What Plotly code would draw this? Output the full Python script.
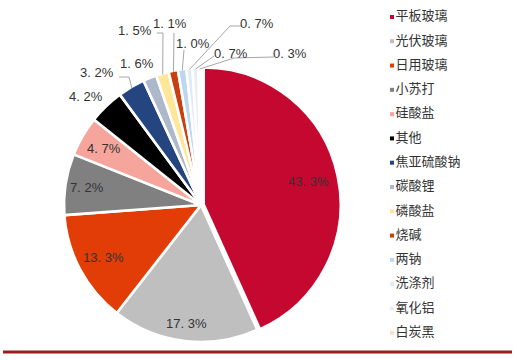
import math
import plotly.graph_objects as go

labels = ["平板玻璃", "光伏玻璃", "日用玻璃", "小苏打", "硅酸盐", "其他", "焦亚硫酸钠",
          "碳酸锂", "磷酸盐", "烧碱", "两钠", "洗涤剂", "氧化铝", "白炭黑"]
values = [43.3, 17.3, 13.3, 7.2, 4.7, 4.2, 3.2, 1.6, 1.5, 1.1, 1.0, 0.7, 0.7, 0.3]
colors = ["#C4082F", "#BFBFBF", "#E23D06", "#808080", "#F5A59B", "#000000", "#24457F",
          "#ADB9CA", "#FFE699", "#C8400F", "#BDD7EE", "#DEEBF7", "#E9EEF4", "#FBE0CC"]

W, H = 517, 360
CX, CY, R = 201, 205, 137
PULL = 0.02

def P(px, py):
    return px / W, 1 - py / H

fig = go.Figure()

half = R * (1 + PULL)
x0, y0 = P(CX - half, CY - half)
x1, y1 = P(CX + half, CY + half)
fig.add_trace(go.Pie(
    labels=labels, values=values, sort=False, direction="clockwise", rotation=0,
    marker=dict(colors=colors, line=dict(color="white", width=2.6)),
    pull=[PULL] + [0] * (len(values) - 1),
    textinfo="none", hoverinfo="label+percent", showlegend=False,
    domain=dict(x=[x0, x1], y=[y1, y0]),
))

# label placement (style): inside radial fraction, or outside label pixel position + leader path
inside_frac = {0: 0.80, 1: 0.87, 2: 0.81, 3: 0.84, 4: 0.82}
outside = {
    5: dict(pos=(86, 97), path=None),
    6: dict(pos=(97, 73), path=[(119, 77), (129, 77)]),
    7: dict(pos=(137, 63), path=None),
    8: dict(pos=(135, 30), path=[(157, 33), (163, 33)]),
    9: dict(pos=(170, 23), path=[(174, 33)]),
    10: dict(pos=(193, 43), path=[(184, 50)]),
    11: dict(pos=(257, 23), path=[(242, 26), (230, 26)]),
    12: dict(pos=(231, 53), path=[(214, 56)]),
    13: dict(pos=(290, 53), path=[(274, 57), (234, 58)]),
}

def fmt(v):
    return f"{v:.1f}%".replace(".", ". ")

total = sum(values)
cum = 0.0
label_font = dict(family="Liberation Sans, Arial", size=13, color="#333333")
for i, v in enumerate(values):
    mid = (cum + v / 2) / total * 360.0
    cum += v
    s, c = math.sin(math.radians(mid)), math.cos(math.radians(mid))
    if i in inside_frac:
        f = inside_frac[i]
        ax, ay = P(CX + f * R * s, CY - f * R * c)
    else:
        o = outside[i]
        ax, ay = P(*o["pos"])
        if o["path"]:
            edge = (CX + (R - 1) * s, CY - (R - 1) * c)
            pts = o["path"] + [edge]
            d = "M " + " L ".join(f"{P(px,py)[0]:.5f},{P(px,py)[1]:.5f}" for px, py in pts)
            fig.add_shape(type="path", path=d, xref="paper", yref="paper",
                          line=dict(color="#A6A6A6", width=1))
    fig.add_annotation(x=ax, y=ay, xref="paper", yref="paper", text=fmt(v),
                       xanchor="center", yanchor="middle",
                       showarrow=False, font=label_font)

# legend built as a scatter on hidden axes
n = len(labels)
fig.add_trace(go.Scatter(
    x=[0] * n, y=list(range(n)), mode="markers+text",
    marker=dict(symbol="square", size=4, color=colors),
    text=labels, textposition="middle right",
    textfont=dict(family="Noto Sans CJK SC", size=13, color="#333333"),
    cliponaxis=False, hoverinfo="text", showlegend=False,
))

# bottom rule
fig.add_shape(type="line", xref="paper", yref="paper",
              x0=3 / W, x1=512 / W, y0=1 - 352 / H, y1=1 - 352 / H,
              line=dict(color="#9B1C1C", width=3))

fig.update_layout(
    width=W, height=H, margin=dict(l=0, r=0, t=0, b=0),
    paper_bgcolor="white", plot_bgcolor="rgba(0,0,0,0)",
    xaxis=dict(visible=False, domain=[392 / W, 1], range=[0, 1]),
    yaxis=dict(visible=False, domain=[1 - 344.85 / H, 1 - 4.85 / H], range=[n - 0.5, -0.5]),
)

fig.write_html("out.html", config={"displayModeBar": False},
               post_script="document.body.style.margin='0';")
